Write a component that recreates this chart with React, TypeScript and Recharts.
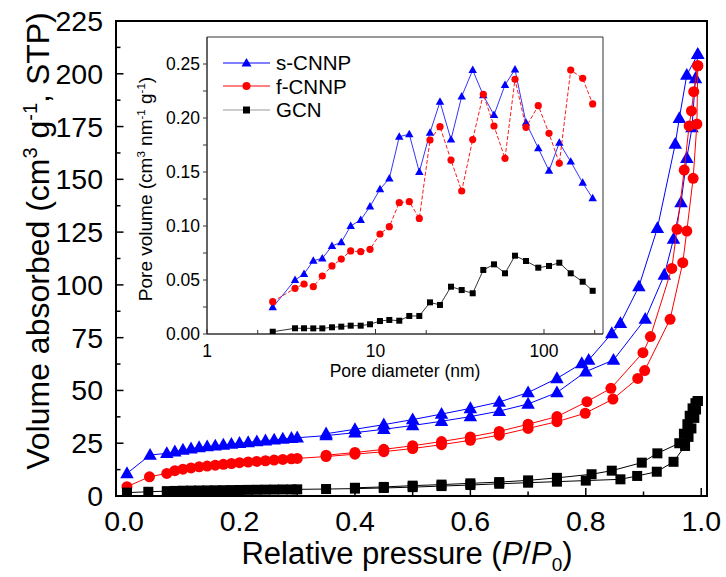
import React from 'react';
import { ScatterChart, Scatter, XAxis, YAxis, ReferenceArea, Legend } from 'recharts';

const FONT = '"Liberation Sans", Arial, Helvetica, sans-serif';
const BLUE = '#0000ff';
const RED = '#ff0000';
const BLACK = '#000000';

// ---------- main isotherm data (P/P0, cm3/g) ----------
const sAdsP = [0.005,0.045,0.074,0.088,0.102,0.116,0.130,0.144,0.158,0.172,0.186,0.200,0.215,0.230,0.245,0.260,0.275,0.290,0.300,0.350,0.400,0.450,0.500,0.550,0.600,0.650,0.700,0.750,0.800,0.848,0.903,0.936,0.952,0.965,0.975,0.984,0.990,0.994];
const sAdsV = [10.7,19.4,20.2,21.0,21.8,22.4,23.0,23.4,23.8,24.2,24.6,25.0,25.4,25.8,26.2,26.6,27.0,27.4,27.6,28.6,30.0,31.6,33.4,35.4,37.6,40.2,43.6,49.0,58.9,64.4,83.8,104.7,121.7,139.0,160.0,174.5,197.8,209.2];
const sDesP = [0.994,0.975,0.962,0.955,0.924,0.892,0.860,0.845,0.805,0.793,0.750,0.700,0.650,0.600,0.550,0.500,0.450,0.400,0.350];
const sDesV = [209.2,199.4,178.9,166.7,126.8,99.2,81.8,77.0,64.4,62.8,55.7,49.0,44.5,41.5,38.8,36.2,33.8,31.6,29.5];

const fAdsP = [0.005,0.044,0.074,0.088,0.102,0.116,0.130,0.144,0.158,0.172,0.186,0.200,0.215,0.230,0.245,0.260,0.275,0.290,0.300,0.350,0.400,0.450,0.500,0.550,0.600,0.650,0.700,0.750,0.799,0.847,0.890,0.902,0.946,0.968,0.975,0.986,0.9925,0.994];
const fAdsV = [4.4,9.1,10.7,12.0,12.7,13.3,13.8,14.2,14.6,15.0,15.4,15.8,16.1,16.4,16.7,17.0,17.3,17.6,17.8,18.7,19.8,21.0,22.5,24.3,26.4,28.8,32.0,35.2,39.2,45.9,55.7,59.4,83.7,110.5,125.5,150.5,176.2,203.8];
const fDesP = [0.994,0.987,0.983,0.979,0.9705,0.958,0.949,0.912,0.899,0.8435,0.802,0.750,0.700,0.650,0.600,0.550,0.500,0.450,0.400,0.350];
const fDesV = [203.8,191.5,182.4,175.3,154.4,126.3,107.8,75.5,67.9,51.0,44.7,37.6,34.0,30.6,28.0,25.8,23.8,22.1,20.6,19.3];

const gAdsP = [0.005,0.042,0.074,0.088,0.102,0.116,0.130,0.144,0.158,0.172,0.186,0.200,0.215,0.230,0.245,0.260,0.275,0.290,0.300,0.350,0.400,0.450,0.500,0.550,0.600,0.650,0.700,0.750,0.800,0.860,0.889,0.923,0.952,0.972,0.978,0.983,0.988,0.991,0.994];
const gAdsV = [1.6,2.0,2.3,2.4,2.5,2.55,2.6,2.65,2.7,2.75,2.8,2.85,2.9,2.95,3.0,3.05,3.1,3.1,3.15,3.3,3.5,3.8,4.2,4.7,5.2,5.8,6.3,6.8,7.3,7.9,9.5,11.5,16.2,23.7,28.0,32.0,37.0,41.0,45.0];
const gDesP = [0.994,0.990,0.985,0.980,0.976,0.970,0.962,0.924,0.897,0.845,0.810,0.750,0.700,0.650,0.600,0.550,0.500,0.450,0.400];
const gDesV = [45.0,44.0,41.5,38.0,34.0,29.5,25.0,20.2,15.8,12.0,10.3,8.6,7.4,6.6,6.0,5.4,4.9,4.3,3.9];

const mainXTicks = [0,0.1,0.2,0.3,0.4,0.5,0.6,0.7,0.8,0.9,1.0];
const mainYTicks = [0,12.5,25,37.5,50,62.5,75,87.5,100,112.5,125,137.5,150,162.5,175,187.5,200,212.5,225];

// ---------- inset pore size distribution ----------
const poreD = [2.455,3.33,3.765,4.274,4.834,5.518,6.266,7.125,8.169,9.277,10.63,12.08,13.84,15.87,18.2,21.06,24.14,28.06,32.48,37.75,43.63,50.5,58.7,67.3,78.2,92.5,107.1,123.3,144.1,169.7,194.5];
const sPv = [0.0247,0.050,0.0556,0.0679,0.070,0.0815,0.0849,0.100,0.1056,0.118,0.134,0.144,0.1827,0.185,0.150,0.1864,0.215,0.180,0.220,0.2444,0.221,0.2028,0.2306,0.245,0.1957,0.172,0.1512,0.177,0.1596,0.140,0.1256];
const fPv = [0.0299,0.0423,0.0463,0.0438,0.0537,0.063,0.0694,0.0769,0.0762,0.0784,0.0926,0.0994,0.1216,0.1225,0.107,0.1796,0.192,0.161,0.1324,0.180,0.222,0.1926,0.1627,0.2358,0.1914,0.2114,0.1858,0.158,0.2444,0.2367,0.213];
const gPv = [0.0021,0.0053,0.0053,0.0052,0.0052,0.0062,0.0068,0.0077,0.0077,0.009,0.012,0.013,0.0123,0.0167,0.0167,0.0293,0.0269,0.0438,0.0407,0.0377,0.0593,0.0645,0.0562,0.0725,0.0676,0.0614,0.063,0.066,0.0562,0.0484,0.040];

const insetXTicks = [1,2,10,20,100,200];
const insetYTicks = [0,0.025,0.05,0.075,0.1,0.125,0.15,0.175,0.2,0.225,0.25];
const seriesNames = ['s-CNNP','f-CNNP','GCN'];

// ---------- helpers ----------
const zip = (p: number[], v: number[]) => p.map((x, i) => ({ p: x, v: v[i] }));
const zipD = (v: number[]) => poreD.map((d, i) => ({ d, y: v[i] }));

const sAds = zip(sAdsP, sAdsV);
const sDes = zip(sDesP, sDesV);
const fAds = zip(fAdsP, fAdsV);
const fDes = zip(fDesP, fDesV);
const gAds = zip(gAdsP, gAdsV);
const gDes = zip(gDesP, gDesV);
const sPsd = zipD(sPv);
const fPsd = zipD(fPv);
const gPsd = zipD(gPv);

const triangle = (w: number, color: string) => (props: any) => {
  const { cx, cy } = props;
  if (cx == null || cy == null) return <g />;
  const h = w * 0.88;
  return <polygon points={`${cx},${cy - h * 0.6} ${cx - w / 2},${cy + h * 0.4} ${cx + w / 2},${cy + h * 0.4}`} fill={color} />;
};
const circle = (r: number, color: string) => (props: any) => {
  const { cx, cy } = props;
  if (cx == null || cy == null) return <g />;
  return <circle cx={cx} cy={cy} r={r} fill={color} />;
};
const square = (s: number, color: string) => (props: any) => {
  const { cx, cy } = props;
  if (cx == null || cy == null) return <g />;
  return <rect x={cx - s / 2} y={cy - s / 2} width={s} height={s} fill={color} />;
};

const MainXTick = (props: any) => {
  const { x, y, payload } = props;
  const v = payload.value as number;
  const major = Math.round(v * 10) % 2 === 0;
  return (
    <g>
      <line x1={x} x2={x} y1={y} y2={y - (major ? 8 : 4.5)} stroke="#000" strokeWidth={1.5} />
      {major && (
        <text x={x} y={y + 35} textAnchor="middle" fontSize={28.5} fontFamily={FONT} fill="#000">{v.toFixed(1)}</text>
      )}
    </g>
  );
};
const MainYTick = (props: any) => {
  const { x, y, payload } = props;
  const v = payload.value as number;
  const major = v % 25 === 0;
  return (
    <g>
      <line x1={x} x2={x + (major ? 7.5 : 4.5)} y1={y} y2={y} stroke="#000" strokeWidth={1.5} />
      {major && (
        <text x={x - 13} y={y + 10} textAnchor="end" fontSize={28.5} fontFamily={FONT} fill="#000">{v}</text>
      )}
    </g>
  );
};
const InsetXTick = (props: any) => {
  const { x, y, payload } = props;
  const v = payload.value as number;
  const major = v === 1 || v === 10 || v === 100;
  return (
    <g>
      <line x1={x} x2={x} y1={y} y2={y - (major ? 5 : 4)} stroke="#333" strokeWidth={1} />
      {major && (
        <text x={x} y={y + 22.5} textAnchor="middle" fontSize={17.5} fontFamily={FONT} fill="#000">{v}</text>
      )}
    </g>
  );
};
const InsetYTick = (props: any) => {
  const { x, y, payload } = props;
  const v = payload.value as number;
  const major = Math.round(v * 1000) % 50 === 0;
  return (
    <g>
      <line x1={x} x2={x - 4} y1={y} y2={y} stroke="#333" strokeWidth={1} />
      {major && (
        <text x={x - 7} y={y + 6} textAnchor="end" fontSize={17.5} fontFamily={FONT} fill="#000">{v.toFixed(2)}</text>
      )}
    </g>
  );
};

const MainXTitle = () => (
  <text x={407} y={564} textAnchor="middle" fontSize={31} fontFamily={FONT} fill="#000">
    Relative pressure (<tspan fontStyle="italic">P</tspan>/<tspan fontStyle="italic">P</tspan>
    <tspan fontSize={19} dy={7}>0</tspan>
    <tspan dy={-7}>)</tspan>
  </text>
);
const MainYTitle = () => (
  <text transform="rotate(-90)" x={-241} y={49} textAnchor="middle" fontSize={32} fontFamily={FONT} fill="#000">
    Volume absorbed (cm<tspan fontSize={20} dy={-12}>3</tspan>
    <tspan dy={12}> g</tspan>
    <tspan fontSize={20} dy={-12}>-1</tspan>
    <tspan dy={12}>, STP)</tspan>
  </text>
);
const InsetXTitle = () => (
  <text x={405} y={377} textAnchor="middle" fontSize={17.5} fontFamily={FONT} fill="#000">Pore diameter (nm)</text>
);
const InsetYTitle = () => (
  <text transform="rotate(-90)" x={-189} y={152} textAnchor="middle" fontSize={19} fontFamily={FONT} fill="#000">
    Pore volume (cm<tspan fontSize={11.5} dy={-7}>3</tspan>
    <tspan dy={7}> nm</tspan>
    <tspan fontSize={11.5} dy={-7}>-1</tspan>
    <tspan dy={7}> g</tspan>
    <tspan fontSize={11.5} dy={-7}>-1</tspan>
    <tspan dy={7}>)</tspan>
  </text>
);

const legendMarkers = [
  { color: BLUE, line: BLUE, kind: 'tri' },
  { color: RED, line: RED, kind: 'circ' },
  { color: BLACK, line: '#999', kind: 'sq' },
];

const renderLegend = () => (
  <div style={{ fontFamily: FONT, fontSize: 20.5, color: '#000' }}>
    {seriesNames.map((name, i) => {
      const m = legendMarkers[i];
      return (
        <div key={name} style={{ display: 'flex', alignItems: 'center', height: 23.5 }}>
          <svg width={50} height={20} style={{ display: 'block' }}>
            <line x1={1} x2={48} y1={10} y2={10} stroke={m.line} strokeWidth={1} />
            {m.kind === 'tri' && <polygon points="24.5,5 19.5,13.5 29.5,13.5" fill={m.color} />}
            {m.kind === 'circ' && <circle cx={24.5} cy={10} r={4} fill={m.color} />}
            {m.kind === 'sq' && <rect x={21} y={6.5} width={7} height={7} fill={m.color} />}
          </svg>
          <span style={{ marginLeft: 4, lineHeight: '23.5px' }}>{name}</span>
        </div>
      );
    })}
  </div>
);

export default function App() {
  return (
    <div style={{ position: 'absolute', left: 0, top: 0, width: 726, height: 577, background: '#fff' }}>
      <div style={{ position: 'absolute', left: 0, top: 0 }}>
        <ScatterChart width={726} height={577} margin={{ top: 21, right: 19, bottom: 31, left: 0 }}>
          <XAxis
            type="number"
            dataKey="p"
            domain={[-0.014, 1.01]}
            allowDataOverflow
            ticks={mainXTicks}
            interval={0}
            tick={(p: any) => <MainXTick {...p} />}
            tickLine={false}
            tickSize={0}
            tickMargin={0}
            height={50}
            axisLine={{ stroke: '#000', strokeWidth: 2 }}
            label={<MainXTitle />}
          />
          <YAxis
            type="number"
            dataKey="v"
            domain={[0, 225]}
            allowDataOverflow
            ticks={mainYTicks}
            interval={0}
            tick={(p: any) => <MainYTick {...p} />}
            tickLine={false}
            tickSize={0}
            tickMargin={0}
            width={116}
            axisLine={{ stroke: '#000', strokeWidth: 2 }}
            label={<MainYTitle />}
          />
          <ReferenceArea x1={-0.014} x2={1.01} y1={0} y2={225} fill="none" fillOpacity={0} stroke="#000" strokeWidth={2} ifOverflow="visible" />
          <Scatter data={sAds} shape={triangle(13.5, BLUE)} line={{ stroke: BLUE, strokeWidth: 1 }} lineType="joint" isAnimationActive={false} />
          <Scatter data={sDes} shape={triangle(13.5, BLUE)} line={{ stroke: BLUE, strokeWidth: 1 }} lineType="joint" isAnimationActive={false} />
          <Scatter data={fAds} shape={circle(5.5, RED)} line={{ stroke: RED, strokeWidth: 1 }} lineType="joint" isAnimationActive={false} />
          <Scatter data={fDes} shape={circle(5.5, RED)} line={{ stroke: RED, strokeWidth: 1 }} lineType="joint" isAnimationActive={false} />
          <Scatter data={gAds} shape={square(10, BLACK)} line={{ stroke: BLACK, strokeWidth: 1 }} lineType="joint" isAnimationActive={false} />
          <Scatter data={gDes} shape={square(10, BLACK)} line={{ stroke: BLACK, strokeWidth: 1 }} lineType="joint" isAnimationActive={false} />
        </ScatterChart>
      </div>
      <div style={{ position: 'absolute', left: 0, top: 0 }}>
        <ScatterChart width={726} height={577} margin={{ top: 37, right: 123, bottom: 203, left: 0 }}>
          <XAxis
            type="number"
            dataKey="d"
            scale="log"
            domain={[1, 224]}
            allowDataOverflow
            ticks={insetXTicks}
            interval={0}
            tick={(p: any) => <InsetXTick {...p} />}
            tickLine={false}
            tickSize={0}
            tickMargin={0}
            height={40}
            axisLine={{ stroke: '#333', strokeWidth: 1 }}
            label={<InsetXTitle />}
          />
          <YAxis
            type="number"
            dataKey="y"
            domain={[0, 0.275]}
            allowDataOverflow
            ticks={insetYTicks}
            interval={0}
            tick={(p: any) => <InsetYTick {...p} />}
            tickLine={false}
            tickSize={0}
            tickMargin={0}
            width={207}
            axisLine={{ stroke: '#333', strokeWidth: 1 }}
            label={<InsetYTitle />}
          />
          <ReferenceArea x1={1} x2={224} y1={0} y2={0.275} fill="none" fillOpacity={0} stroke="#333" strokeWidth={1} ifOverflow="visible" />
          <Legend
            layout="vertical"
            align="center"
            verticalAlign="middle"
            content={renderLegend}
            wrapperStyle={{ left: 222, top: 51, width: 160, height: 72 }}
          />
          <Scatter name={seriesNames[0]} data={sPsd} shape={triangle(8.5, BLUE)} line={{ stroke: BLUE, strokeWidth: 0.8 }} lineType="joint" isAnimationActive={false} />
          <Scatter name={seriesNames[1]} data={fPsd} shape={circle(3.6, RED)} line={{ stroke: RED, strokeWidth: 0.9, strokeDasharray: '4 2' }} lineType="joint" isAnimationActive={false} />
          <Scatter name={seriesNames[2]} data={gPsd} shape={square(6, BLACK)} line={{ stroke: BLACK, strokeWidth: 0.8 }} lineType="joint" isAnimationActive={false} />
        </ScatterChart>
      </div>
    </div>
  );
}
